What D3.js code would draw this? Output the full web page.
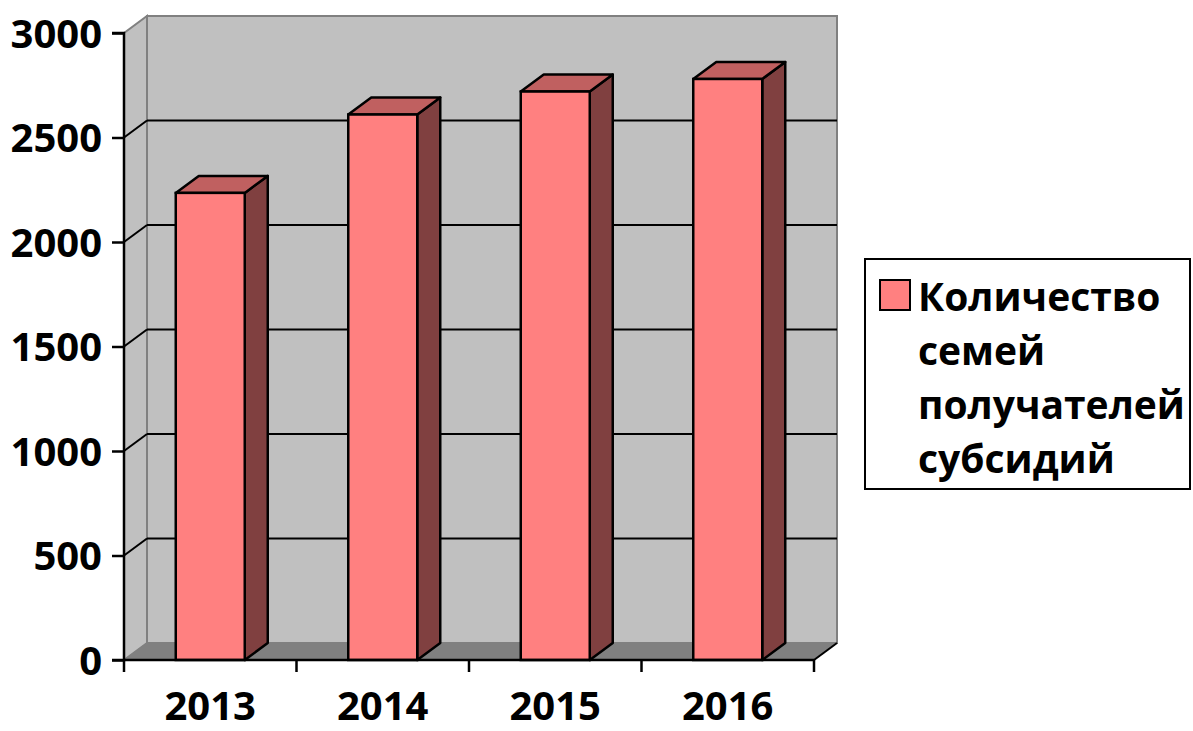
<!DOCTYPE html>
<html>
<head>
<meta charset="utf-8">
<script src="https://cdn.jsdelivr.net/npm/d3@7"></script>
<style>
  body { margin: 0; background: #fff; }
  text { font-family: "Open Sans", "Noto Sans", sans-serif; font-weight: bold; }
</style>
</head>
<body>
<div id="graph"></div>
<script>
const years = ['2013', '2014', '2015', '2016'];
const values = [2235, 2610, 2720, 2780];
const yTicks = [0, 500, 1000, 1500, 2000, 2500, 3000];
const seriesName = ['Количество', 'семей', 'получателей', 'субсидий'];

const w = 1193;
const h = 731;
// 3d depth offset
const dx = 23;
const dy = -17;

const svg = d3.select('#graph')
  .append('svg')
  .attr('width', w)
  .attr('height', h);

const xScale = d3.scaleBand().domain(years).range([124, 814]).paddingInner(0.6).paddingOuter(0.3);
const xEdge = d3.scaleLinear().domain([0, years.length]).range([124, 814]);
const yScale = d3.scaleLinear().domain([0, 3000]).range([660, 33]);

const x0 = xEdge(0), x1 = xEdge(years.length);
const yTop = yScale(3000), yBot = yScale(0);

const pts = a => a.map(p => p.join(',')).join(' ');

// back wall
svg.append('polygon')
  .attr('points', pts([[x0 + dx, yTop + dy], [x1 + dx, yTop + dy], [x1 + dx, yBot + dy], [x0 + dx, yBot + dy]]))
  .style('fill', '#c0c0c0')
  .style('stroke', '#808080')
  .style('stroke-width', 2);

// side wall
svg.append('polygon')
  .attr('points', pts([[x0, yTop], [x0 + dx, yTop + dy], [x0 + dx, yBot + dy], [x0, yBot]]))
  .style('fill', '#c0c0c0')
  .style('stroke', '#808080')
  .style('stroke-width', 2);

// floor
svg.append('polygon')
  .attr('points', pts([[x0, yBot], [x0 + dx, yBot + dy], [x1 + dx, yBot + dy], [x1, yBot]]))
  .style('fill', '#808080')
  .style('stroke', '#808080')
  .style('stroke-width', 1);

// gridlines
const grid = yTicks.filter(d => d > 0 && d < 3000);
svg.selectAll('.grid-back')
  .data(grid)
  .enter()
  .append('line')
  .attr('class', 'grid-back')
  .attr('x1', x0 + dx)
  .attr('x2', x1 + dx)
  .attr('y1', d => yScale(d) + dy)
  .attr('y2', d => yScale(d) + dy)
  .style('stroke', '#000')
  .style('stroke-width', 2);

svg.selectAll('.grid-side')
  .data(grid)
  .enter()
  .append('line')
  .attr('class', 'grid-side')
  .attr('x1', x0)
  .attr('x2', x0 + dx)
  .attr('y1', d => yScale(d))
  .attr('y2', d => yScale(d) + dy)
  .style('stroke', '#000')
  .style('stroke-width', 2);

// right edge of floor
svg.append('line')
  .attr('x1', x1).attr('y1', yBot)
  .attr('x2', x1 + dx).attr('y2', yBot + dy)
  .style('stroke', '#000')
  .style('stroke-width', 2);

// bars
const bars = svg.selectAll('.bar')
  .data(years.map((y, i) => ({year: y, value: values[i]})))
  .enter()
  .append('g')
  .attr('class', 'bar');

bars.append('polygon')
  .attr('points', d => {
    const bx = xScale(d.year) + xScale.bandwidth();
    const ty = yScale(d.value);
    return pts([[bx, ty], [bx + dx, ty + dy], [bx + dx, yBot + dy], [bx, yBot]]);
  })
  .style('fill', '#804040')
  .style('stroke', '#000')
  .style('stroke-width', 2.5)
  .style('stroke-linejoin', 'round');

bars.append('polygon')
  .attr('points', d => {
    const bx = xScale(d.year);
    const bw = xScale.bandwidth();
    const ty = yScale(d.value);
    return pts([[bx, ty], [bx + dx, ty + dy], [bx + bw + dx, ty + dy], [bx + bw, ty]]);
  })
  .style('fill', '#c06060')
  .style('stroke', '#000')
  .style('stroke-width', 2.5)
  .style('stroke-linejoin', 'round');

bars.append('rect')
  .attr('x', d => xScale(d.year))
  .attr('y', d => yScale(d.value))
  .attr('width', xScale.bandwidth())
  .attr('height', d => yBot - yScale(d.value))
  .style('fill', '#ff8080')
  .style('stroke', '#000')
  .style('stroke-width', 2.5);

// y axis
const yAxis = d3.axisLeft(yScale).tickValues(yTicks).tickSize(12).tickPadding(10).tickFormat(d3.format('d'));
const gy = svg.append('g')
  .attr('transform', `translate(${x0},0)`)
  .call(yAxis);
gy.select('.domain').attr('d', `M-12,${yTop}H0V${yBot}H-12`).style('stroke-width', 2.5);
gy.selectAll('.tick line').style('stroke-width', 2.5);
gy.selectAll('.tick text').style('font-size', '40px').style('font-family', '"Open Sans", sans-serif').attr('dy', '0.36em');

// x axis
svg.append('line')
  .attr('x1', x0).attr('x2', x1)
  .attr('y1', yBot).attr('y2', yBot)
  .style('stroke', '#000')
  .style('stroke-width', 2.5);

svg.selectAll('.xtick')
  .data(d3.range(years.length + 1))
  .enter()
  .append('line')
  .attr('class', 'xtick')
  .attr('x1', d => xEdge(d)).attr('x2', d => xEdge(d))
  .attr('y1', yBot).attr('y2', yBot + 12)
  .style('stroke', '#000')
  .style('stroke-width', 2.5);

svg.selectAll('.xlabel')
  .data(years)
  .enter()
  .append('text')
  .attr('class', 'xlabel')
  .attr('x', d => xScale(d) + xScale.bandwidth() / 2)
  .attr('y', 720)
  .attr('text-anchor', 'middle')
  .style('font-size', '40px')
  .text(d => d);

// legend
const legend = svg.append('g').attr('id', 'legend');
legend.append('rect')
  .attr('x', 865).attr('y', 259)
  .attr('width', 325).attr('height', 230)
  .style('fill', '#fff')
  .style('stroke', '#000')
  .style('stroke-width', 2);
legend.append('rect')
  .attr('x', 880).attr('y', 280)
  .attr('width', 30).attr('height', 30)
  .style('fill', '#ff8080')
  .style('stroke', '#000')
  .style('stroke-width', 2);
legend.selectAll('.legend-label')
  .data(seriesName)
  .enter()
  .append('text')
  .attr('class', 'legend-label')
  .attr('x', 918)
  .attr('y', (d, i) => 311 + i * 54)
  .style('font-size', '39px')
  .text(d => d);
</script>
</body>
</html>
